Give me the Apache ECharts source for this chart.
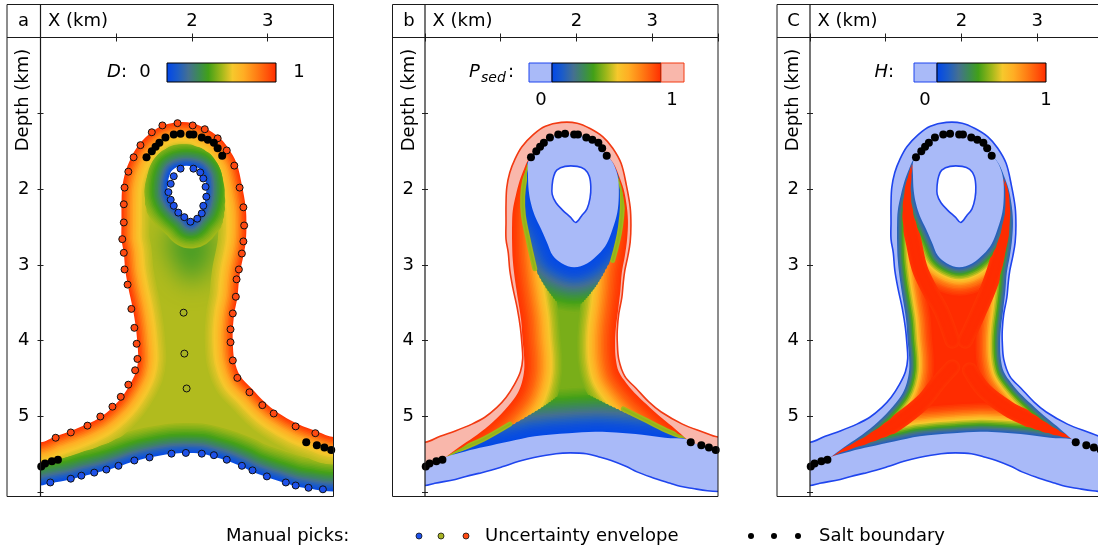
<!DOCTYPE html>
<html>
<head>
<meta charset="utf-8">
<title>Salt body uncertainty</title>
<script src="https://cdn.jsdelivr.net/npm/echarts@6.0.0/dist/echarts.min.js"></script>
<style>
html, body { margin: 0; padding: 0; background: #fff; }
#chart { width: 1098px; height: 549px; }
</style>
</head>
<body>
<div id="chart"></div>
<script>
// ---------- axes (km) ----------
const X_MAX = 3.87;
const Y_MAX = 6.055;
const xTickLabels = [2, 3];
const yTickLabels = [2, 3, 4, 5];

// ---------- geometry: [X km, depth km] ----------
// outer limit of the uncertainty envelope, left to right
const envOuter = [[0.00,5.34],[0.20,5.26],[0.40,5.19],[0.62,5.10],[0.79,5.01],[0.95,4.88],[1.07,4.75],[1.18,4.58],[1.26,4.41],[1.29,4.24],[1.28,4.04],[1.26,3.83],[1.22,3.58],[1.16,3.30],[1.12,3.07],[1.10,2.84],[1.07,2.66],[1.07,2.44],[1.07,2.20],[1.08,1.98],[1.12,1.78],[1.19,1.60],[1.28,1.44],[1.43,1.28],[1.59,1.17],[1.80,1.12],[2.01,1.13],[2.18,1.20],[2.35,1.31],[2.48,1.46],[2.59,1.66],[2.66,1.95],[2.71,2.24],[2.72,2.48],[2.71,2.70],[2.68,2.88],[2.64,3.07],[2.62,3.22],[2.60,3.43],[2.56,3.64],[2.54,3.85],[2.54,4.02],[2.56,4.25],[2.64,4.47],[2.79,4.63],[2.96,4.81],[3.12,4.94],[3.40,5.10],[3.66,5.20],[3.87,5.27]];
// lower limit of the envelope, left to right
const envBottom = [[0.00,5.91],[0.13,5.88],[0.40,5.83],[0.54,5.79],[0.71,5.75],[0.87,5.71],[1.03,5.66],[1.24,5.59],[1.44,5.54],[1.73,5.49],[1.92,5.48],[2.13,5.49],[2.29,5.53],[2.46,5.58],[2.66,5.66],[2.80,5.73],[2.99,5.80],[3.24,5.88],[3.37,5.92],[3.54,5.95],[3.73,5.98],[3.87,5.99]];
// inner limit around the sediment inclusion
const innerHole = [[1.74,1.75],[1.85,1.70],[2.01,1.70],[2.11,1.74],[2.17,1.83],[2.19,1.97],[2.18,2.12],[2.14,2.26],[2.07,2.35],[1.99,2.44],[1.92,2.37],[1.82,2.28],[1.73,2.18],[1.68,2.07],[1.68,1.94],[1.70,1.83]];
// lower-D zone under the inclusion (panel a)
const midZone = [[1.66,2.62],[1.76,2.52],[1.98,2.49],[2.20,2.52],[2.30,2.62],[2.26,2.88],[2.15,3.12],[2.00,3.24],[1.86,3.12],[1.73,2.90]];

// P_sed = 1 contour, left and right flanks (top to arm tip)
const pOneLeft = [[1.36,1.62],[1.31,1.73],[1.25,1.89],[1.20,2.08],[1.16,2.28],[1.15,2.48],[1.15,2.68],[1.16,2.94],[1.19,3.21],[1.23,3.47],[1.27,3.73],[1.29,4.00],[1.31,4.22],[1.31,4.39],[1.28,4.55],[1.22,4.70],[1.10,4.86],[0.90,5.07],[0.69,5.24],[0.50,5.37],[0.28,5.53]];
const pOneRight = [[2.43,1.58],[2.50,1.68],[2.56,1.82],[2.62,1.99],[2.66,2.19],[2.68,2.41],[2.67,2.65],[2.64,2.88],[2.60,3.10],[2.58,3.34],[2.55,3.60],[2.52,3.84],[2.51,4.04],[2.52,4.24],[2.56,4.41],[2.66,4.56],[2.80,4.72],[2.97,4.88],[3.14,5.03],[3.30,5.16],[3.46,5.30]];
// P_sed = 0 contours: around the inclusion and above the base
const annulusEdge = [[1.36,1.65],[1.36,1.82],[1.37,2.02],[1.40,2.19],[1.45,2.35],[1.53,2.52],[1.61,2.70],[1.69,2.88],[1.81,2.98],[1.97,3.03],[2.14,2.98],[2.29,2.86],[2.40,2.72],[2.48,2.52],[2.54,2.31],[2.56,2.08],[2.55,1.86],[2.50,1.69],[2.43,1.58]];
const bottomEdgeP0 = [[0.28,5.53],[0.53,5.46],[0.79,5.40],[1.11,5.33],[1.45,5.26],[1.90,5.22],[2.25,5.20],[2.52,5.21],[2.87,5.24],[3.17,5.28],[3.46,5.30]];
// P_sed = 0.5 lines (maximum entropy): the four branches of the X
const ridgeUpperLeft = [[1.37,1.66],[1.32,1.85],[1.29,2.10],[1.30,2.35],[1.37,2.70],[1.45,3.05],[1.58,3.33],[1.74,3.62],[1.88,4.00]];
const ridgeUpperRight = [[2.44,1.62],[2.60,2.06],[2.58,2.51],[2.48,2.94],[2.36,3.30],[2.22,3.63],[2.05,4.00]];
const ridgeLowerLeft = [[0.29,5.53],[0.50,5.42],[0.77,5.30],[1.12,5.10],[1.50,4.80],[1.70,4.55],[1.88,4.35]];
const ridgeLowerRight = [[2.11,4.39],[2.30,4.66],[2.62,4.90],[2.90,5.04],[3.18,5.18],[3.46,5.29]];

// manual picks
const picksOuter = [[0.20,5.28],[0.40,5.21],[0.62,5.12],[0.79,5.00],[0.95,4.87],[1.06,4.74],[1.16,4.58],[1.25,4.39],[1.28,4.24],[1.27,4.04],[1.24,3.83],[1.20,3.58],[1.15,3.26],[1.11,3.06],[1.10,2.84],[1.08,2.66],[1.10,2.44],[1.10,2.20],[1.11,1.98],[1.16,1.77],[1.23,1.58],[1.32,1.42],[1.47,1.25],[1.61,1.16],[1.81,1.13],[2.01,1.16],[2.17,1.21],[2.34,1.33],[2.46,1.49],[2.56,1.69],[2.63,1.98],[2.68,2.24],[2.69,2.48],[2.68,2.69],[2.66,2.85],[2.62,3.06],[2.59,3.19],[2.58,3.42],[2.54,3.64],[2.51,3.85],[2.51,4.02],[2.54,4.26],[2.60,4.49],[2.76,4.68],[2.93,4.85],[3.08,4.96],[3.37,5.13],[3.63,5.22]];
const picksHole = [[1.85,1.73],[2.02,1.73],[2.11,1.78],[2.15,1.86],[2.18,1.97],[2.19,2.10],[2.15,2.22],[2.13,2.32],[2.07,2.39],[1.98,2.43],[1.90,2.37],[1.82,2.31],[1.76,2.22],[1.72,2.14],[1.69,2.04],[1.72,1.93],[1.76,1.83]];
const picksBottom = [[0.13,5.87],[0.40,5.82],[0.54,5.78],[0.71,5.74],[0.87,5.70],[1.03,5.65],[1.24,5.58],[1.44,5.54],[1.73,5.49],[1.92,5.48],[2.13,5.49],[2.29,5.51],[2.46,5.57],[2.66,5.65],[2.80,5.71],[2.99,5.79],[3.24,5.87],[3.37,5.91],[3.54,5.94],[3.73,5.96]];
const picksMiddle = [[1.89,3.63],[1.90,4.17],[1.93,4.63]];
// salt boundary
const saltTop = [[1.40,1.58],[1.47,1.50],[1.52,1.44],[1.57,1.39],[1.65,1.32],[1.76,1.28],[1.85,1.27],[1.97,1.28],[2.02,1.28],[2.13,1.32],[2.21,1.35],[2.29,1.39],[2.34,1.46],[2.40,1.56]];
const saltLeft = [[0.01,5.66],[0.06,5.62],[0.15,5.59],[0.23,5.57]];
const saltRight = [[3.51,5.34],[3.65,5.38],[3.75,5.41],[3.84,5.44]];

// ---------- field levels ----------
const dBase = 0.52, dMid = 0.36;   // D far from the limits, D under the inclusion
const pBase = 0.45;                // P_sed in the core of the stem
const hBase = 1.0;                 // H in the core of the stem
// [distance from line in px, field value]
const rampAOuter  = [[0,1.0],[4,0.92],[8,0.82],[12,0.72],[17,0.63],[22,0.57],[28,0.53]];
const rampAHole   = [[0,0.0],[5,0.13],[10,0.27],[16,0.38],[22,0.46],[26,0.5]];
const rampABottom = [[0,0.0],[6,0.12],[12,0.26],[19,0.38],[26,0.46],[30,0.5]];
const rampBOuter  = [[0,0.99],[6,0.95],[12,0.88],[18,0.78],[25,0.65],[32,0.53],[38,0.46]];
const rampBInner  = [[0,0.01],[8,0.05],[14,0.12],[22,0.22],[30,0.32],[38,0.4],[46,0.45]];
const rampBRidge  = [[0,0.47],[2.5,0.5]];
const rampCOuter  = [[0,0.08],[3,0.2],[7,0.42],[11,0.62],[15,0.8],[20,0.92],[26,1.0]];
const rampCInner  = [[0,0.08],[4,0.2],[9,0.42],[14,0.62],[19,0.8],[24,0.92],[30,1.0]];
const rampCRidge  = [[0,1.0],[5,1.0],[8,0.985]];

// ---------- colours ----------
const cmapStops = [
  [0.00, [0, 70, 235]], [0.10, [28, 92, 200]], [0.20, [68, 112, 145]], [0.30, [60, 140, 80]],
  [0.38, [66, 160, 24]], [0.50, [160, 184, 26]], [0.60, [246, 200, 44]], [0.70, [255, 174, 36]],
  [0.82, [255, 126, 20]], [0.92, [255, 82, 10]], [1.00, [255, 44, 0]]
];
const LIGHT_BLUE = '#a9baf8', LIGHT_RED = '#f9b7ab';
const BLUE_LINE = '#1f45ee', RED_LINE = '#f23a12';
const FONT = 'DejaVu Sans';
const SM = 0.35, STEP = 1.5;

function rgb(c) { return 'rgb(' + c.map(Math.round).join(',') + ')'; }
function cmap(v) {
  v = Math.max(0, Math.min(1, v));
  for (let i = 1; i < cmapStops.length; i++) {
    const a = cmapStops[i - 1], b = cmapStops[i];
    if (v <= b[0]) {
      const t = (v - a[0]) / (b[0] - a[0]);
      return rgb(a[1].map((c, k) => c + (b[1][k] - c) * t));
    }
  }
  return rgb(cmapStops[cmapStops.length - 1][1]);
}
function rampAt(ramp, d) {
  for (let i = 1; i < ramp.length; i++) {
    if (d <= ramp[i][0]) {
      const t = (d - ramp[i - 1][0]) / (ramp[i][0] - ramp[i - 1][0]);
      return ramp[i - 1][1] + (ramp[i][1] - ramp[i - 1][1]) * t;
    }
  }
  return ramp[ramp.length - 1][1];
}
const rev = a => a.slice().reverse();
const last = a => a[a.length - 1];
// carry a line that meets the plot edges a little past them
const padEnds = pts => [[-0.5, pts[0][1]]].concat(pts, [[X_MAX + 0.5, last(pts)[1]]]);

const env = padEnds(envOuter);
const bot = padEnds(envBottom);
const envelopePoly = env.concat(rev(bot));
const maskTop = [[-0.5, -1]].concat(env, [[X_MAX + 0.5, -1]]);
const maskBottom = bot.concat([[X_MAX + 0.5, Y_MAX + 1], [-0.5, Y_MAX + 1]]);
const outerStrip = env.concat([[X_MAX + 0.5, last(saltRight)[1]]], rev(saltRight), rev(pOneRight), rev(saltTop), pOneLeft, rev(saltLeft), [[-0.5, saltLeft[0][1]]]);
const annulus = annulusEdge.concat(rev(saltTop));
const baseBand = [[-0.5, saltLeft[0][1]]].concat(saltLeft, bottomEdgeP0, saltRight, [[X_MAX + 0.5, last(saltRight)[1]]], [[X_MAX + 0.5, last(envBottom)[1]]], rev(envBottom), [[-0.5, envBottom[0][1]]]);
// full X for the entropy panel; only the parts in the narrow flanks and arms for P_sed
const ridgesH = [ridgeUpperLeft, ridgeUpperRight, ridgeLowerLeft, ridgeLowerRight];
const ridgesP = [ridgeUpperLeft.slice(0, 6), ridgeUpperRight.slice(0, 4), ridgeLowerLeft.slice(0, 4), ridgeLowerRight.slice(2)];

// ---------- drawing helpers ----------
function poly(P, pts, fill, extra) {
  return { type: 'polygon', shape: { points: P(pts), smooth: SM }, style: Object.assign({ fill: fill, stroke: null }, extra || {}) };
}
// soft-edged patch: the shape sits off to the side and only its blurred shadow lands in place
function softPatch(P, pts, color, blur) {
  const SHIFT = 2000;
  return { type: 'polygon', shape: { points: P(pts).map(p => [p[0] + SHIFT, p[1]]), smooth: SM },
    style: { fill: color, stroke: null, shadowBlur: blur, shadowColor: color, shadowOffsetX: -SHIFT, shadowOffsetY: 0 } };
}
function outline(P, pts, color, closed) {
  return { type: closed ? 'polygon' : 'polyline', shape: { points: P(pts), smooth: SM },
    style: { fill: 'none', stroke: color, lineWidth: 1.6, lineJoin: 'round' } };
}
// nested strokes of decreasing width: nearest line wins
function bands(P, lines, toColor) {
  const list = [];
  lines.forEach(l => {
    l.px = P(l.pts);
    const dMax = last(l.ramp)[0];
    for (let d = dMax; d > 0.01; d -= STEP) list.push({ l: l, d: d });
  });
  list.sort((a, b) => b.d - a.d);
  return list.map(b => ({
    type: b.l.closed ? 'polygon' : 'polyline',
    shape: { points: b.l.px, smooth: SM },
    style: { fill: 'none', stroke: toColor(rampAt(b.l.ramp, b.d)), lineWidth: 2 * b.d, lineJoin: 'round', lineCap: 'round' }
  }));
}

function fieldA(P) {
  return [poly(P, envelopePoly, cmap(dBase)), softPatch(P, midZone, cmap(dMid), 26)]
    .concat(bands(P, [
      { pts: env, ramp: rampAOuter },
      { pts: innerHole, ramp: rampAHole, closed: true },
      { pts: bot, ramp: rampABottom }
    ], cmap))
    .concat([poly(P, maskTop, '#fff'), poly(P, maskBottom, '#fff'), poly(P, innerHole, '#fff')]);
}
function fieldBC(P, base, rOuter, rInner, ridgeSet, rRidge, stripFill, outerLine) {
  const lines = [
    { pts: pOneLeft, ramp: rOuter }, { pts: pOneRight, ramp: rOuter },
    { pts: annulusEdge, ramp: rInner }, { pts: bottomEdgeP0, ramp: rInner }
  ].concat(ridgeSet.map(r => ({ pts: r, ramp: rRidge })));
  return [poly(P, envelopePoly, cmap(base))]
    .concat(bands(P, lines, cmap))
    .concat([
      poly(P, maskTop, '#fff'), poly(P, maskBottom, '#fff'),
      poly(P, outerStrip, stripFill), poly(P, annulus, LIGHT_BLUE), poly(P, baseBand, LIGHT_BLUE),
      poly(P, innerHole, '#fff'),
      outline(P, innerHole, BLUE_LINE, true), outline(P, env, outerLine, false), outline(P, bot, BLUE_LINE, false)
    ]);
}
function fieldSeries(gi, build) {
  return {
    type: 'custom', xAxisIndex: 2 * gi, yAxisIndex: 2 * gi, coordinateSystem: 'cartesian2d',
    clip: true, silent: true, z: 2, data: [[0, 0]],
    renderItem: function (params, api) {
      const P = pts => pts.map(p => api.coord(p));
      return { type: 'group', children: build(P) };
    }
  };
}
function picks(gi, data, color, size, border) {
  return { type: 'scatter', xAxisIndex: 2 * gi, yAxisIndex: 2 * gi, data: data, symbol: 'circle', symbolSize: size,
    silent: true, z: 5, itemStyle: { color: color, borderColor: '#111', borderWidth: border, opacity: 1 } };
}

// ---------- layout ----------
const PANELS = [
  { left: 40.5, box: 7, letter: 'a' },
  { left: 425, box: 392.5, letter: 'b' },
  { left: 810, box: 777, letter: 'C' }
];
const TOP = 37.5, PW = 293, PH = 459, BOX_TOP = 4.5;
const labelStyle = { fontSize: 18, fontFamily: FONT, color: '#000' };

const grids = [], xAxes = [], yAxes = [];
PANELS.forEach((p, i) => {
  grids.push({ left: p.left, top: TOP, width: PW, height: PH, containLabel: false, outerBoundsMode: 'none' });
  const xBase = { type: 'value', gridIndex: i, position: 'top', min: 0, max: X_MAX, interval: 1, z: 10,
    axisLine: { show: false }, splitLine: { show: false } };
  xAxes.push(Object.assign({}, xBase, {
    axisTick: { inside: true, length: 4, lineStyle: { color: '#222', width: 1 } },
    axisLabel: Object.assign({ margin: 7, formatter: v => xTickLabels.includes(v) ? String(v) : '' }, labelStyle)
  }));
  xAxes.push(Object.assign({}, xBase, {
    axisTick: { inside: false, length: 4, lineStyle: { color: '#222', width: 1 } }, axisLabel: { show: false }
  }));
  const yBase = { type: 'value', gridIndex: i, position: 'left', inverse: true, min: 0, max: Y_MAX, interval: 1, z: 10,
    axisLine: { show: false }, splitLine: { show: false } };
  yAxes.push(Object.assign({}, yBase, {
    axisTick: { inside: false, length: 3, lineStyle: { color: '#222', width: 1 } },
    axisLabel: Object.assign({ margin: 11, formatter: v => yTickLabels.includes(v) ? String(v) : '' }, labelStyle)
  }));
  yAxes.push(Object.assign({}, yBase, {
    axisTick: { inside: true, length: 3, lineStyle: { color: '#222', width: 1 } }, axisLabel: { show: false }
  }));
});

const series = [
  fieldSeries(0, fieldA),
  fieldSeries(1, P => fieldBC(P, pBase, rampBOuter, rampBInner, ridgesP, rampBRidge, LIGHT_RED, RED_LINE)),
  fieldSeries(2, P => fieldBC(P, hBase, rampCOuter, rampCInner, ridgesH, rampCRidge, LIGHT_BLUE, BLUE_LINE)),
  picks(0, picksOuter, '#ff4a12', 7, 1),
  picks(0, picksHole.concat(picksBottom), '#1f52ea', 7, 1),
  picks(0, picksMiddle, '#a8b424', 7, 1)
];
[0, 1, 2].forEach(gi => series.push(picks(gi, saltTop.concat(saltLeft, saltRight), '#000', 8, 0)));

// ---------- frames, titles, colour bars, key ----------
const G = [];
const txt = (x, y, text, o) => ({ type: 'text', x: x, y: y, z: 100, silent: true,
  style: Object.assign({ text: text, fontSize: 18, fontFamily: FONT, fill: '#000', align: 'left', verticalAlign: 'middle' }, o || {}) });
const seg = (x1, y1, x2, y2) => ({ type: 'line', z: 100, silent: true, shape: { x1: x1, y1: y1, x2: x2, y2: y2 },
  style: { stroke: '#1a1a1a', lineWidth: 1.2 } });
const box = (x, y, w, h, fill, stroke) => ({ type: 'rect', z: 100, silent: true, shape: { x: x, y: y, width: w, height: h },
  style: { fill: fill, stroke: stroke, lineWidth: 1 } });
const barFill = { type: 'linear', x: 0, y: 0, x2: 1, y2: 0, colorStops: cmapStops.map(s => ({ offset: s[0], color: rgb(s[1]) })) };

PANELS.forEach(p => {
  const right = p.left + PW;
  G.push(box(p.box, BOX_TOP, right - p.box, TOP + PH - BOX_TOP, 'none', '#1a1a1a'));
  G.push(seg(p.box, TOP, right, TOP));
  G.push(seg(p.left, BOX_TOP, p.left, TOP + PH));
  G.push(txt(p.box + 16.5, 21, p.letter, { align: 'center' }));
  G.push(txt(p.left + 7.5, 21, 'X (km)'));
  G.push(Object.assign(txt(p.box + 16.5, 100, 'Depth (km)', { align: 'center' }), { rotation: Math.PI / 2 }));
});
// D colour bar
G.push(txt(127, 72.5, '{i|D}:', { align: 'right', rich: { i: { fontStyle: 'italic', fontSize: 18, fontFamily: FONT } } }));
G.push(txt(145, 72.5, '0', { align: 'center' }));
G.push(box(167, 63, 109, 19, barFill, '#000'));
G.push(txt(299, 72.5, '1', { align: 'center' }));
// P_sed colour bar
G.push(txt(469, 72.5, 'P', { fontStyle: 'italic' }));
G.push(txt(481, 78, 'sed', { fontStyle: 'italic', fontSize: 14 }));
G.push(txt(508, 72.5, ':'));
G.push(box(529, 63, 23, 19, LIGHT_BLUE, BLUE_LINE));
G.push(box(552, 63, 109, 19, barFill, '#000'));
G.push(box(661, 63, 23, 19, LIGHT_RED, RED_LINE));
G.push(txt(541, 100, '0', { align: 'center' }));
G.push(txt(672, 100, '1', { align: 'center' }));
// H colour bar
G.push(txt(894, 72.5, '{i|H}:', { align: 'right', rich: { i: { fontStyle: 'italic', fontSize: 18, fontFamily: FONT } } }));
G.push(box(914, 63, 23, 19, LIGHT_BLUE, BLUE_LINE));
G.push(box(937, 63, 109, 19, barFill, '#000'));
G.push(txt(925, 100, '0', { align: 'center' }));
G.push(txt(1046, 100, '1', { align: 'center' }));
// key
const dot = (x, fill, stroke) => ({ type: 'circle', z: 100, silent: true, shape: { cx: x, cy: 536, r: 3 },
  style: { fill: fill, stroke: stroke, lineWidth: 0.8 } });
G.push(txt(226, 536, 'Manual picks:'));
G.push(dot(419, '#1f52ea', '#111'), dot(441, '#a8b424', '#111'), dot(466, '#ff4a12', '#111'));
G.push(txt(485, 536, 'Uncertainty envelope'));
G.push(dot(751, '#000', null), dot(774, '#000', null), dot(798, '#000', null));
G.push(txt(819, 536, 'Salt boundary'));

const chart = echarts.init(document.getElementById('chart'), null, { renderer: 'canvas' });
chart.setOption({
  animation: false,
  backgroundColor: '#fff',
  grid: grids,
  xAxis: xAxes,
  yAxis: yAxes,
  series: series,
  graphic: G
});
</script>
</body>
</html>
